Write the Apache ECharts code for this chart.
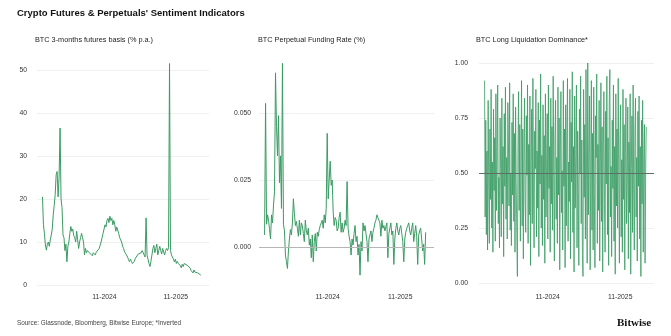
<!DOCTYPE html>
<html>
<head>
<meta charset="utf-8">
<script src="https://cdn.jsdelivr.net/npm/echarts@6/dist/echarts.min.js"></script>
<style>
  html, body { margin: 0; padding: 0; background: #ffffff; }
  #chart { width: 671px; height: 336px; }
</style>
</head>
<body>
<div id="chart"></div>
<script>
// ---------- data ----------
const chartTitle = "Crypto Futures & Perpetuals' Sentiment Indicators";
const panelTitles = ["BTC 3-months futures basis (% p.a.)", "BTC Perpetual Funding Rate (%)", "BTC Long Liquidation Dominance*"];
const sourceText = "Source: Glassnode, Bloomberg, Bitwise Europe; *Inverted";

// observation dates: start 2023-12-20, every 5 days (basis, funding) / every 3 days (dominance)
const startDate = "2023-12-20";
const stepDays = 5;
const stepDaysDominance = 3;
const xTickDates = ["2024-11-01", "2025-11-01"];
const xTickLabels = ["11-2024", "11-2025"];
const basisTicks = [0, 10, 20, 30, 40, 50];
const fundingTicks = ["0.000", "0.025", "0.050"];
const dominanceTicks = ["0.00", "0.25", "0.50", "0.75", "1.00"];

const futuresBasis = [
  20.5, 14, 12, 9.3, 8.1, 9.5, 10, 9, 10.5, 11.6,
  13, 16.3, 18.5, 21, 25.6, 26.4, 20.5, 25, 36.5, 20,
  18, 11.6, 11, 8, 9.5, 5.4, 9, 10, 12, 13.6,
  12.5, 13, 11.5, 11, 10, 12.5, 10.5, 8.5, 10, 11,
  12, 11, 10, 7, 8.5, 7.5, 8, 8.3, 7.5, 7.2,
  7.4, 6.8, 7.5, 7.2, 7, 7.6, 7.8, 8, 8.5, 9.2,
  10, 11, 12, 13, 14, 13.5, 15, 15.5, 14.5, 16,
  15, 15.5, 14, 15, 14, 12.5, 13.5, 13.3, 12, 11,
  10.5, 10, 9, 8.5, 7.7, 7.5, 7, 6.5, 6, 5.4,
  6, 5.5, 5, 4.6, 5.5, 6.2, 6, 6.5, 7.2, 6.8,
  7, 7.5, 8, 7.7, 7, 6.5, 15.6, 7, 6, 5,
  4.3, 5.5, 7, 8.5, 9.2, 7.5, 8.5, 9.5, 7, 8,
  9, 8, 7.2, 8.5, 7.7, 7, 8, 8.5, 8, 8.7,
  51.5, 8, 7, 6.5, 6, 5.4, 6, 5, 5.5, 5,
  5.2, 4.5, 4, 4.8, 4.3, 5, 5.3, 5, 4.6, 4.2,
  4.5, 4, 3.4, 3, 2.8, 3.5, 3, 2.6, 3.2, 2.8,
  2.5, 2.7, 2.3
];

const fundingRate = [
  0.0045, 0.0536, 0.0085, 0.012, 0.010, 0.0065, 0.003, 0.012, 0.009, 0.0157,
  0.0206, 0.065, 0.045, 0.034, 0.049, 0.024, 0.034, 0.0144, 0.0685, 0.0085,
  0.006, -0.003, -0.0055, -0.008, -0.0015, 0.003, 0.0065, 0.0045, 0.009, 0.018,
  0.0125, 0.008, 0.0095, 0.007, 0.004, 0.010, 0.0045, 0.009, 0.008, 0.005,
  0.002, 0.010, 0.006, 0.0045, 0.007, 0.0007, 0.003, -0.004, 0.0045, -0.0055,
  0.002, 0.005, -0.0015, 0.0055, 0.004, 0.0065, 0.008, 0.009, 0.010, 0.007,
  0.012, 0.009, 0.0145, 0.0424, 0.018, 0.025, 0.032, 0.023, 0.025, 0.013,
  0.008, 0.011, 0.010, 0.006, 0.007, 0.011, 0.013, 0.0055, 0.009, 0.0055,
  0.007, 0.010, 0.008, 0.0244, 0.007, 0.004, 0.002, -0.003, 0.003, 0.0007,
  0.005, 0.008, 0.002, 0.004, -0.003, 0.001, -0.0105, 0.002, -0.0015, 0.009,
  0.006, 0.008, 0.005, 0.002, -0.0055, 0.003, 0.0045, 0.006, 0.002, 0.0055,
  0.007, 0.009, 0.010, 0.012, 0.011, 0.010, 0.009, 0.004, 0.010, 0.007,
  0.008, 0.006, 0.0055, 0.009, -0.004, 0.005, 0.007, 0.009, 0.0045, 0.006,
  -0.0065, 0.003, 0.007, 0.009, 0.006, 0.0045, 0.007, 0.008, 0.005, 0.002,
  -0.0055, 0.003, 0.0055, 0.007, 0.008, 0.009, 0.006, 0.0045, 0.007, 0.009,
  0.002, 0.005, 0.008, 0.004, -0.0065, 0.0045, 0.006, 0.007, 0.003, -0.0015,
  0.001, -0.0065, 0.0055
];

const liqDominance = [
  0.92, 0.30, 0.74, 0.22, 0.60, 0.15, 0.83, 0.45, 0.18, 0.70, 0.38, 0.88, 0.25, 0.55, 0.14, 0.79,
  0.42, 0.66, 0.19, 0.86, 0.33, 0.58, 0.90, 0.27, 0.48, 0.16, 0.75, 0.52, 0.21, 0.84, 0.36, 0.62,
  0.12, 0.77, 0.44, 0.89, 0.29, 0.57, 0.20, 0.82, 0.64, 0.35, 0.91, 0.24, 0.50, 0.17, 0.73, 0.40,
  0.86, 0.28, 0.68, 0.14, 0.80, 0.46, 0.22, 0.03, 0.61, 0.87, 0.33, 0.72, 0.19, 0.54, 0.92, 0.26,
  0.70, 0.11, 0.58, 0.84, 0.37, 0.23, 0.76, 0.49, 0.90, 0.18, 0.63, 0.31, 0.85, 0.08, 0.55, 0.79,
  0.27, 0.93, 0.41, 0.16, 0.69, 0.52, 0.88, 0.21, 0.60, 0.34, 0.82, 0.12, 0.74, 0.45, 0.95, 0.25,
  0.58, 0.17, 0.81, 0.38, 0.67, 0.09, 0.86, 0.30, 0.53, 0.77, 0.20, 0.90, 0.43, 0.62, 0.14, 0.84,
  0.36, 0.71, 0.24, 0.94, 0.48, 0.10, 0.66, 0.83, 0.29, 0.57, 0.18, 0.89, 0.40, 0.75, 0.06, 0.60,
  0.87, 0.32, 0.51, 0.15, 0.92, 0.44, 0.70, 0.07, 0.81, 0.26, 0.64, 0.93, 0.19, 0.55, 0.37, 0.88,
  0.11, 0.73, 0.46, 0.96, 0.23, 0.62, 0.05, 0.85, 0.34, 0.58, 0.90, 0.16, 0.69, 0.42, 0.08, 0.79,
  0.50, 0.94, 0.27, 0.65, 0.13, 0.03, 0.88, 0.39, 0.72, 0.20, 0.97, 0.47, 0.09, 1.00, 0.31, 0.61,
  0.85, 0.06, 0.54, 0.92, 0.24, 0.68, 0.15, 0.89, 0.41, 0.07, 0.76, 0.57, 0.95, 0.18, 0.63, 0.33,
  0.83, 0.10, 0.49, 0.91, 0.28, 0.71, 0.05, 0.60, 0.87, 0.36, 0.14, 0.78, 0.45, 0.94, 0.22, 0.66,
  0.08, 0.82, 0.97, 0.30, 0.53, 0.12, 0.74, 0.43, 0.90, 0.19, 0.62, 0.04, 0.86, 0.35, 0.70, 0.25,
  0.93, 0.48, 0.09, 0.67, 0.81, 0.21, 0.56, 0.14, 0.88, 0.38, 0.72, 0.06, 0.59, 0.84, 0.27, 0.45,
  0.80, 0.11, 0.64, 0.32, 0.86, 0.04, 0.52, 0.76, 0.23, 0.90, 0.41, 0.15, 0.69, 0.84, 0.30, 0.57,
  0.10, 0.78, 0.44, 0.85, 0.20, 0.62, 0.03, 0.74, 0.36, 0.83, 0.14, 0.58, 0.72, 0.09, 0.50, 0.71
];

// ---------- build ----------
const DAY = 86400000;
const t0 = Date.parse(startDate + "T00:00:00Z");
const pair = (vals, step) => vals.map((v, i) => [t0 + i * step * DAY, v]);
const xTickTs = xTickDates.map(d => Date.parse(d + "T00:00:00Z"));

const X_MIN = Date.parse("2023-11-22T00:00:00Z");
const X_MAX = Date.parse("2026-04-20T00:00:00Z");

const GREEN = "#3a9b63";
const FONT = '"Liberation Sans", Arial, sans-serif';
const GRID_COLOR = "#f0f0f0";

function xAxis(gridIndex, margin) {
  return {
    type: "value", gridIndex, min: X_MIN, max: X_MAX,
    axisLine: { show: false }, axisTick: { show: false }, splitLine: { show: false },
    axisLabel: {
      customValues: xTickTs, margin, color: "#333", fontSize: 6.8, fontFamily: FONT,
      formatter: (v) => {
        const k = xTickTs.findIndex(t => Math.abs(t - v) < 3 * DAY);
        return k >= 0 ? xTickLabels[k] : "";
      }
    }
  };
}
function yAxis(gridIndex, min, max, interval, labels, margin) {
  return {
    type: "value", gridIndex, min, max, interval,
    axisLine: { show: false }, axisTick: { show: false },
    splitLine: { show: true, lineStyle: { color: GRID_COLOR, width: 1 } },
    axisLabel: {
      margin, color: "#333", fontSize: 6.8, fontFamily: FONT,
      formatter: (v) => {
        const k = Math.round((v - min) / interval);
        return labels[k] !== undefined ? String(labels[k]) : "";
      }
    }
  };
}

const option = {
  animation: false,
  backgroundColor: "#ffffff",
  grid: [
    { left: 37, top: 70, width: 172, height: 215 },
    { left: 259, top: 113, width: 175, height: 134 },
    { left: 479, top: 63, width: 175, height: 220 }
  ],
  xAxis: [xAxis(0, 9), xAxis(1, 47), xAxis(2, 11)],
  yAxis: [
    yAxis(0, 0, 50, 10, basisTicks, 10),
    yAxis(1, 0, 0.05, 0.025, fundingTicks, 8),
    yAxis(2, 0, 1, 0.25, dominanceTicks, 11)
  ],
  series: [
    {
      type: "line", xAxisIndex: 0, yAxisIndex: 0, data: pair(futuresBasis, stepDays),
      showSymbol: false, clip: false, lineStyle: { color: GREEN, width: 1 }
    },
    {
      type: "line", xAxisIndex: 1, yAxisIndex: 1, data: pair(fundingRate, stepDays),
      showSymbol: false, clip: false, lineStyle: { color: GREEN, width: 1 },
      markLine: {
        silent: true, symbol: "none", label: { show: false },
        lineStyle: { color: "#b5b5b5", type: "solid", width: 1 },
        data: [{ yAxis: 0 }]
      }
    },
    {
      type: "line", xAxisIndex: 2, yAxisIndex: 2, data: pair(liqDominance, stepDaysDominance),
      showSymbol: false, clip: false, lineStyle: { color: GREEN, width: 1, opacity: 0.8 },
      markLine: {
        silent: true, symbol: "none", label: { show: false },
        lineStyle: { color: "#5f6f64", type: "solid", width: 1 },
        data: [{ yAxis: 0.5 }]
      }
    }
  ],
  graphic: [
    { type: "text", x: 17, y: 13.5, style: { text: chartTitle, fill: "#111", font: 'bold 9.5px ' + FONT, verticalAlign: "middle" } },
    { type: "text", x: 35, y: 40, style: { text: panelTitles[0], fill: "#222", font: '7.3px ' + FONT, verticalAlign: "middle" } },
    { type: "text", x: 258, y: 40, style: { text: panelTitles[1], fill: "#222", font: '7.3px ' + FONT, verticalAlign: "middle" } },
    { type: "text", x: 476, y: 40, style: { text: panelTitles[2], fill: "#222", font: '7.3px ' + FONT, verticalAlign: "middle" } },
    { type: "text", x: 17, y: 323, style: { text: sourceText, fill: "#444", font: '6.4px ' + FONT, verticalAlign: "middle" } },
    { type: "text", x: 617, y: 323, style: { text: "Bitwise", fill: "#111", font: 'bold 11px "Liberation Serif", "Times New Roman", serif', verticalAlign: "middle" } }
  ]
};

const chart = echarts.init(document.getElementById("chart"), null, { renderer: "canvas" });
chart.setOption(option);
</script>
</body>
</html>
